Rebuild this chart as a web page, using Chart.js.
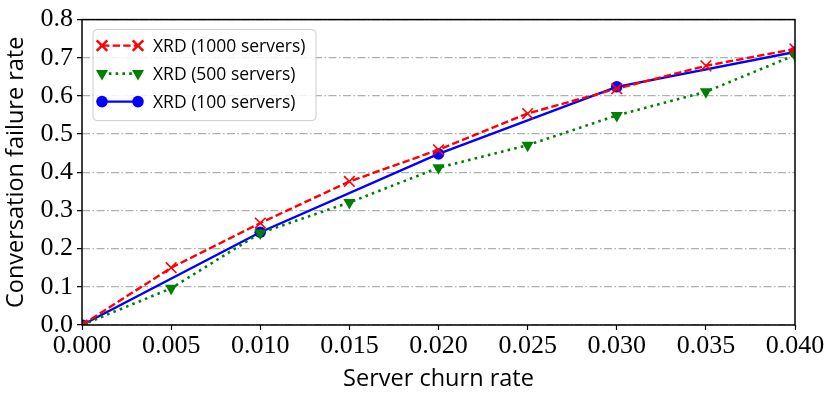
<!DOCTYPE html>
<html lang="en">
<head>
<meta charset="UTF-8">
<title>Conversation failure rate</title>
<script src="https://cdn.jsdelivr.net/npm/chart.js"></script>
<style>
    * { margin: 0; padding: 0; box-sizing: border-box; }
    body { background: #fff; }
    .wrap { position: relative; width: 830px; height: 400px; }
</style>
</head>
<body>
<div class="wrap"><canvas id="churn" width="830" height="400"></canvas></div>
<script>
// values
var churnRates    = [0, 0.005, 0.010, 0.015, 0.020, 0.025, 0.030, 0.035, 0.040];
var churnRates100 = [0, 0.010, 0.020, 0.030, 0.040];
var fail1000 = [0, 0.150, 0.267, 0.376, 0.459, 0.554, 0.619, 0.679, 0.723];
var fail500  = [0, 0.096, 0.241, 0.321, 0.412, 0.471, 0.549, 0.611, 0.707];
var fail100  = [0, 0.243, 0.448, 0.624, 0.715];
var seriesNames = ['XRD (1000 servers)', 'XRD (500 servers)', 'XRD (100 servers)'];
var xTicks = [0, 0.005, 0.010, 0.015, 0.020, 0.025, 0.030, 0.035, 0.040];
var yTicks = [0, 0.1, 0.2, 0.3, 0.4, 0.5, 0.6, 0.7, 0.8];

function pairs(xs, ys) {
    return xs.map(function (x, i) { return { x: x, y: ys[i] }; });
}

var tickFont = { family: "'Liberation Serif', serif", size: 26 };
var labelFont = { family: "'Open Sans', sans-serif", size: 23.5 };

// legend drawn inside the plot, top-left, like matplotlib
var boxLegend = {
    id: 'boxLegend',
    afterDatasetsDraw: function (chart) {
        var ctx = chart.ctx, area = chart.chartArea;
        var x0 = area.left + 11, y0 = area.top + 10, w = 223, h = 91;
        ctx.save();
        ctx.fillStyle = 'rgba(255,255,255,0.85)';
        ctx.strokeStyle = '#cccccc';
        ctx.lineWidth = 1;
        ctx.beginPath();
        ctx.roundRect(x0, y0, w, h, 4);
        ctx.fill();
        ctx.stroke();
        var order = [0, 1, 2];
        order.forEach(function (di, row) {
            var ds = chart.data.datasets[di];
            var cy = y0 + 16 + row * 28;
            var xa = x0 + 9, xb = x0 + 45;
            ctx.strokeStyle = ds.borderColor;
            ctx.lineWidth = ds.borderWidth;
            ctx.setLineDash(ds.borderDash || []);
            ctx.beginPath();
            ctx.moveTo(xa, cy);
            ctx.lineTo(xb, cy);
            ctx.stroke();
            ctx.setLineDash([]);
            ctx.fillStyle = ds.pointBackgroundColor;
            ctx.strokeStyle = ds.pointBorderColor;
            [xa, xb].forEach(function (px) {
                Chart.helpers.drawPoint(ctx, {
                    pointStyle: ds.pointStyle,
                    rotation: ds.pointRotation || 0,
                    radius: ds.pointRadius,
                    borderWidth: ds.pointBorderWidth
                }, px, cy);
            });
            ctx.fillStyle = '#000';
            ctx.font = "17.5px 'Open Sans', sans-serif";
            ctx.textBaseline = 'middle';
            ctx.fillText(ds.label, x0 + 60, cy + 1);
        });
        ctx.restore();
    },
    afterDraw: function (chart) {
        var ctx = chart.ctx, a = chart.chartArea;
        ctx.save();
        ctx.strokeStyle = '#000';
        ctx.lineWidth = 1.5;
        ctx.strokeRect(a.left, a.top, a.right - a.left, a.bottom - a.top);
        ctx.restore();
    }
};

new Chart(document.getElementById('churn'), {
    type: 'line',
    data: {
        datasets: [{
            label: seriesNames[0],
            data: pairs(churnRates, fail1000),
            borderColor: '#ff0000',
            borderWidth: 2.4,
            borderDash: [7.4, 3.2],
            pointStyle: 'crossRot',
            pointRadius: 7.5,
            pointBorderWidth: 1.6,
            pointBorderColor: '#ff0000',
            pointBackgroundColor: '#ff0000',
            order: 1
        }, {
            label: seriesNames[1],
            data: pairs(churnRates, fail500),
            borderColor: '#008000',
            borderWidth: 2.6,
            borderDash: [2.6, 4.2],
            pointStyle: 'triangle',
            pointRotation: 180,
            pointRadius: 7,
            pointBorderWidth: 0,
            pointBorderColor: '#008000',
            pointBackgroundColor: '#008000',
            order: 2
        }, {
            label: seriesNames[2],
            data: pairs(churnRates100, fail100),
            borderColor: '#0000ff',
            borderWidth: 2.4,
            pointStyle: 'circle',
            pointRadius: 5.8,
            pointBorderWidth: 0,
            pointBorderColor: '#0000ff',
            pointBackgroundColor: '#0000ff',
            order: 3
        }]
    },
    options: {
        responsive: false,
        animation: false,
        devicePixelRatio: 1,
        layout: { padding: { top: 16, right: 35, left: 0, bottom: 0 } },
        elements: { line: { tension: 0, fill: false } },
        datasets: { line: { clip: 0 } },
        plugins: { legend: { display: false }, tooltip: { enabled: false } },
        scales: {
            x: {
                type: 'linear',
                min: 0,
                max: 0.04,
                afterBuildTicks: function (s) { s.ticks = xTicks.map(function (v) { return { value: v }; }); },
                afterFit: function (s) { s.height = 75; },
                ticks: {
                    color: '#000',
                    font: tickFont,
                    padding: 1,
                    maxRotation: 0,
                    callback: function (v) { return v.toFixed(3); }
                },
                grid: { drawOnChartArea: false, drawTicks: true, tickLength: 5, tickColor: '#000', tickWidth: 1.2 },
                border: { display: false },
                title: { display: true, text: 'Server churn rate', color: '#000', font: labelFont, padding: { top: 0, bottom: 7 } }
            },
            y: {
                min: 0,
                max: 0.8,
                afterBuildTicks: function (s) { s.ticks = yTicks.map(function (v) { return { value: v }; }); },
                afterFit: function (s) { s.width = 82; },
                ticks: {
                    color: '#000',
                    font: tickFont,
                    padding: 4,
                    callback: function (v) { return v.toFixed(1); }
                },
                grid: {
                    color: '#b0b0b0',
                    lineWidth: 1.3,
                    drawTicks: true,
                    tickLength: 5,
                    tickColor: '#000',
                    tickWidth: 1.2,
                    tickBorderDash: []
                },
                border: { display: false, dash: [8, 2.5, 1.5, 2.5] },
                title: { display: true, text: 'Conversation failure rate', color: '#000', font: labelFont, padding: { top: 2, bottom: 0 } }
            }
        }
    },
    plugins: [boxLegend]
});
</script>
</body>
</html>
